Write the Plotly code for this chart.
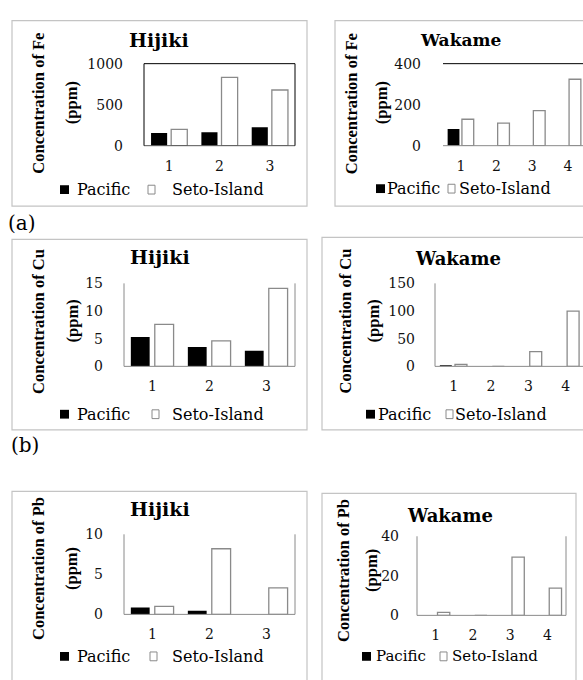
import plotly.graph_objects as go

W, H = 583, 680

# ---------------- data ----------------
cats_hijiki = ["1", "2", "3"]
cats_wakame = ["1", "2", "3", "4"]

fe_hijiki_pacific = [155, 165, 225]
fe_hijiki_seto = [200, 833, 679]
fe_wakame_pacific = [81, 0, 0, 0]
fe_wakame_seto = [129, 110, 171, 324]

cu_hijiki_pacific = [5.3, 3.5, 2.8]
cu_hijiki_seto = [7.6, 4.6, 14.1]
cu_wakame_pacific = [1.5, 0, 0, 0]
cu_wakame_seto = [3.5, 0, 26.5, 100]

pb_hijiki_pacific = [0.85, 0.45, 0]
pb_hijiki_seto = [1.0, 8.2, 3.3]
pb_wakame_pacific = [0, 0, 0, 0]
pb_wakame_seto = [1.5, 0, 29.5, 13.8]

fe_ticks = {"hijiki": [0, 500, 1000], "wakame": [0, 200, 400]}
cu_ticks = {"hijiki": [0, 5, 10, 15], "wakame": [0, 50, 100, 150]}
pb_ticks = {"hijiki": [0, 5, 10], "wakame": [0, 20, 40]}

series_names = ["Pacific", "Seto-Island"]
titles = {"hijiki": "Hijiki", "wakame": "Wakame"}
metal_titles = {"fe": "Concentration of Fe", "cu": "Concentration of Cu", "pb": "Concentration of Pb"}
panel_labels = ["(a)", "(b)"]

# ---------------- layout helpers ----------------
GRAY = "#8a8a8a"
BOX = "#c4c4c4"
SERIF = "DejaVu Serif"
TNR = "Liberation Serif"


def px(x):
    return x / W


def py(y):
    return 1 - y / H


panels = [
    dict(cats=cats_hijiki, pac=fe_hijiki_pacific, seto=fe_hijiki_seto, ticks=fe_ticks["hijiki"],
         title=titles["hijiki"], ytitle=metal_titles["fe"],
         area=(144, 295, 57, 141), xr=(-0.5, 2.5), off=(-0.36, 0.04), bw=0.32,
         box=(12, 307, 13, 203), frame="full", ttl=(159, 33), tfs=19, yt=(38.5, 71, 97.5),
         leg=(60, 75, 148, 170, 186, 16), tstand=20),
    dict(cats=cats_wakame, pac=fe_wakame_pacific, seto=fe_wakame_seto, ticks=fe_ticks["wakame"],
         title=titles["wakame"], ytitle=metal_titles["fe"],
         area=(443, 583, 57, 141), xr=(-0.5, 3.42), off=(-0.37, 0.03), bw=0.33,
         box=(335, 600, 13, 203), frame="top", ttl=(460, 33), tfs=17, yt=(351, 381, 97.5),
         leg=(376, 385, 448, 457, 185, 16), tstand=21),
    dict(cats=cats_hijiki, pac=cu_hijiki_pacific, seto=cu_hijiki_seto, ticks=cu_ticks["hijiki"],
         title=titles["hijiki"], ytitle=metal_titles["cu"],
         area=(124, 295, 282, 367), xr=(-0.5, 2.5), off=(-0.38, 0.04), bw=0.33,
         box=(12, 307, 237, 432), frame="sides", ttl=(160, 255), tfs=19, yt=(38.5, 72, 321),
         leg=(60, 75, 152, 170, 416, 16), tstand=20),
    dict(cats=cats_wakame, pac=cu_wakame_pacific, seto=cu_wakame_seto, ticks=cu_ticks["wakame"],
         title=titles["wakame"], ytitle=metal_titles["cu"],
         area=(435, 583, 282, 367), xr=(-0.5, 3.46), off=(-0.37, 0.035), bw=0.32,
         box=(322, 600, 235, 432), frame="left", ttl=(458, 257), tfs=18, yt=(345, 373, 321),
         leg=(366, 376, 446, 453, 416, 16), tstand=19),
    dict(cats=cats_hijiki, pac=pb_hijiki_pacific, seto=pb_hijiki_seto, ticks=pb_ticks["hijiki"],
         title=titles["hijiki"], ytitle=metal_titles["pb"],
         area=(124, 295, 539, 621), xr=(-0.5, 2.5), off=(-0.38, 0.04), bw=0.33,
         box=(12, 307, 495, 700), frame="sides", ttl=(160, 513), tfs=19, yt=(38.5, 71.5, 574),
         leg=(60, 75, 150, 170, 664, 16), tstand=20),
    dict(cats=cats_wakame, pac=pb_wakame_pacific, seto=pb_wakame_seto, ticks=pb_ticks["wakame"],
         title=titles["wakame"], ytitle=metal_titles["pb"],
         area=(417, 566, 541, 622), xr=(-0.5, 3.5), off=(-0.38, 0.05), bw=0.33,
         box=(322, 576, 497, 700), frame="sides", ttl=(450, 520), tfs=18, yt=(343.5, 371.5, 576),
         leg=(362, 374, 440, 450, 664, 15), tstand=17),
]

fig = go.Figure()
shapes = []
annotations = []
layout_axes = {}

for i, p in enumerate(panels, start=1):
    xa = "x" if i == 1 else f"x{i}"
    ya = "y" if i == 1 else f"y{i}"
    xkey = "xaxis" if i == 1 else f"xaxis{i}"
    ykey = "yaxis" if i == 1 else f"yaxis{i}"
    x0, x1, y0, y1 = p["area"]

    fig.add_trace(go.Bar(x=p["cats"], y=p["pac"], name=series_names[0], xaxis=xa, yaxis=ya,
                         width=p["bw"], offset=p["off"][0], showlegend=False,
                         marker=dict(color="black", line=dict(width=0))))
    fig.add_trace(go.Bar(x=p["cats"], y=p["seto"], name=series_names[1], xaxis=xa, yaxis=ya,
                         width=p["bw"], offset=p["off"][1], showlegend=False,
                         marker=dict(color="white", line=dict(color=GRAY, width=1.3))))

    layout_axes[xkey] = dict(domain=[px(x0), min(px(x1), 1.0)], anchor=ya, type="category",
                             categoryarray=p["cats"], range=list(p["xr"]), showgrid=False,
                             zeroline=False, showline=False, ticks="", ticklabelstandoff=10,
                             tickfont=dict(family=SERIF, size=14, color="#111"), fixedrange=True)
    ticks = p["ticks"]
    layout_axes[ykey] = dict(domain=[py(y1), py(y0)], anchor=xa, range=[ticks[0], ticks[-1]],
                             tickvals=ticks, ticktext=[str(t) for t in ticks], showgrid=False,
                             zeroline=False, showline=False, ticks="",
                             ticklabelstandoff=p["tstand"],
                             tickfont=dict(family=SERIF, size=14, color="#111"), fixedrange=True)

    xd = f"{xa} domain"
    yd = f"{ya} domain"

    def line(a, b, c, d, col, w=1, xd=xd, yd=yd):
        shapes.append(dict(type="line", xref=xd, yref=yd, x0=a, x1=b, y0=c, y1=d,
                           line=dict(color=col, width=w), layer="above"))

    if p["frame"] == "full":
        line(0, 1, 0, 0, "#555")
        line(0, 1, 1, 1, "black")
        line(0, 0, 0, 1, "black")
        line(1, 1, 0, 1, "black")
    elif p["frame"] == "top":
        line(0, 1, 0, 0, GRAY)
        line(0, 1, 1, 1, "black")
    elif p["frame"] == "sides":
        line(0, 1, 0, 0, GRAY)
        line(0, 0, 0, 1, GRAY)
        line(1, 1, 0, 1, GRAY)
    elif p["frame"] == "left":
        line(0, 1, 0, 0, GRAY)
        line(0, 0, 0, 1, GRAY)

    # panel border
    bx0, bx1, by0, by1 = p["box"]
    shapes.append(dict(type="rect", xref="paper", yref="paper", x0=px(bx0), x1=px(bx1),
                       y0=py(by1), y1=py(by0), line=dict(color=BOX, width=1.2),
                       fillcolor="rgba(0,0,0,0)", layer="below"))

    # chart title
    tx, ty = p["ttl"]
    annotations.append(dict(text=f"<b>{p['title']}</b>", x=px(tx), y=py(ty), xref="paper", yref="paper",
                            showarrow=False, xanchor="center", yanchor="middle",
                            font=dict(family=SERIF, size=p["tfs"], color="black")))
    # y-axis title (two lines)
    l1x, l2x, lyc = p["yt"]
    annotations.append(dict(text=f"<b>{p['ytitle']}</b>", x=px(l1x), y=py(lyc), xref="paper", yref="paper",
                            showarrow=False, textangle=-90, xanchor="center", yanchor="middle",
                            font=dict(family=TNR, size=16.5, color="black")))
    annotations.append(dict(text="<b>(ppm)</b>", x=px(l2x), y=py(lyc), xref="paper", yref="paper",
                            showarrow=False, textangle=-90, xanchor="center", yanchor="middle",
                            font=dict(family=TNR, size=16.5, color="black")))

    # legend
    sqx, ptx, ssx, stx, ly, fs = p["leg"]
    shapes.append(dict(type="rect", xref="paper", yref="paper", x0=px(sqx), x1=px(sqx + 9),
                       y0=py(ly + 4.5), y1=py(ly - 4.5), fillcolor="black", line=dict(width=0)))
    shapes.append(dict(type="rect", xref="paper", yref="paper", x0=px(ssx), x1=px(ssx + 7),
                       y0=py(ly + 4.5), y1=py(ly - 4.5), fillcolor="white",
                       line=dict(color=GRAY, width=1)))
    annotations.append(dict(text=series_names[0], x=px(ptx), y=py(ly), xref="paper", yref="paper",
                            showarrow=False, xanchor="left", yanchor="middle",
                            font=dict(family=SERIF, size=fs, color="black")))
    annotations.append(dict(text=series_names[1], x=px(stx), y=py(ly), xref="paper", yref="paper",
                            showarrow=False, xanchor="left", yanchor="middle",
                            font=dict(family=SERIF, size=fs, color="black")))

# panel labels
for lab, (lx, ly) in zip(panel_labels, [(22, 220), (25, 448)]):
    annotations.append(dict(text=lab, x=px(lx), y=py(ly), xref="paper", yref="paper", showarrow=False,
                            xanchor="center", yanchor="middle",
                            font=dict(family=SERIF, size=20, color="black")))

fig.update_layout(width=W, height=H, margin=dict(l=0, r=0, t=0, b=0), paper_bgcolor="white",
                  plot_bgcolor="white", barmode="overlay", shapes=shapes, annotations=annotations,
                  showlegend=False, **layout_axes)

fig.write_html("out.html", config={"displayModeBar": False})
